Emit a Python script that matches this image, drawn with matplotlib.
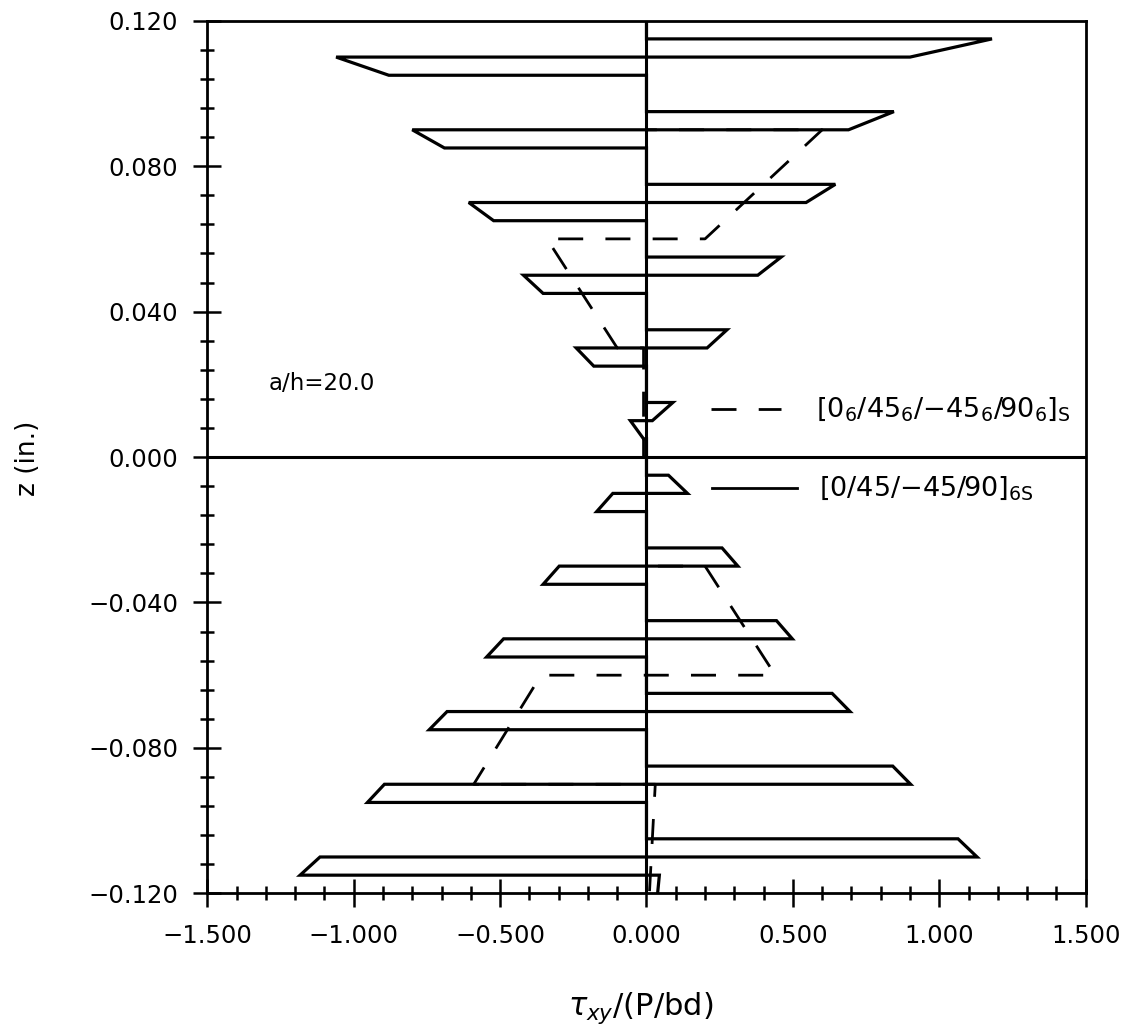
import numpy as np
import matplotlib
matplotlib.use('Agg')
from matplotlib import pyplot as plt
from matplotlib.ticker import MultipleLocator, FuncFormatter

plt.rcParams['font.family'] = 'DejaVu Sans'
plt.rcParams['mathtext.fontset'] = 'dejavusans'
plt.rcParams['lines.scale_dashes'] = False

# [0/45/-45/90]_6S laminate, 48 plies of 0.005 in., listed top to bottom
quasi_angles = [0, 45, -45, 90] * 6 + [90, -45, 45, 0] * 6
quasi_ply_t = 0.005
# shear stress at top / bottom face of the angle plies (upper half, top group first)
upper_p45_top = [1.18, 0.845, 0.645, 0.46, 0.275, 0.09]
upper_p45_bot = [0.90, 0.69, 0.545, 0.38, 0.207, 0.02]
upper_m45_top = [-1.06, -0.80, -0.607, -0.42, -0.24, -0.055]
upper_m45_bot = [-0.88, -0.69, -0.522, -0.353, -0.18, -0.01]
# lower half, group next to mid-plane first
lower_m45_top = [0.075, 0.258, 0.444, 0.634, 0.841, 1.064]
lower_m45_bot = [0.14, 0.312, 0.498, 0.695, 0.902, 1.129]
lower_p45_top = [-0.115, -0.298, -0.488, -0.681, -0.895, -1.115]
lower_p45_bot = [-0.17, -0.353, -0.546, -0.742, -0.953, -1.183]
bottom_ply = (0.044, 0.038)

# [0_6/45_6/-45_6/90_6]_S laminate, 8 blocks of 0.03 in.
block_angles = [0, 45, -45, 90, 90, -45, 45, 0]
block_t = 0.03
block_top = [0.0, 0.60, -0.34, -0.01, 0.0, 0.20, -0.36, 0.03]
block_bot = [0.0, 0.20, -0.10, -0.01, 0.0, 0.44, -0.59, 0.01]


def quasi_profile():
    tops, bots = [], []
    up45 = iter(zip(upper_p45_top, upper_p45_bot))
    upm45 = iter(zip(upper_m45_top, upper_m45_bot))
    lo45 = iter(zip(lower_p45_top, lower_p45_bot))
    lom45 = iter(zip(lower_m45_top, lower_m45_bot))
    for i, ang in enumerate(quasi_angles):
        upper = i < 24
        if ang == 45:
            a, b = next(up45) if upper else next(lo45)
        elif ang == -45:
            a, b = next(upm45) if upper else next(lom45)
        elif i == len(quasi_angles) - 1:
            a, b = bottom_ply
        else:
            a, b = 0.0, 0.0
        tops.append(a)
        bots.append(b)
    return tops, bots


def profile_path(tops, bots, t):
    xs, zs = [], []
    z = 0.12
    for a, b in zip(tops, bots):
        xs += [a, b]
        zs += [z, z - t]
        z -= t
    return xs, zs


fig = plt.figure(figsize=(11.32, 10.36), dpi=100)
ax = fig.add_axes([0.1831, 0.1377, 0.776, 0.8423])

q_top, q_bot = quasi_profile()
qx, qz = profile_path(q_top, q_bot, quasi_ply_t)
bx, bz = profile_path(block_top, block_bot, block_t)

ax.axvline(0, color='black', lw=2.2)
ax.axhline(0, color='black', lw=2.2)
ax.plot(qx, qz, color='black', lw=2.3, solid_joinstyle='miter')
ax.plot(bx, bz, color='black', lw=2.0, dashes=(18, 16))

# legend drawn by hand next to the profile
ax.plot([0.22, 0.46], [0.0132, 0.0132], color='black', lw=2.0, dashes=(18, 16))
ax.text(0.58, 0.0132, r'$[0_6/45_6/{-}45_6/90_6]_{\mathrm{S}}$', fontsize=19.5, va='center')
ax.plot([0.225, 0.515], [-0.0086, -0.0086], color='black', lw=2.0)
ax.text(0.59, -0.0086, r'$[0/45/{-}45/90]_{\mathrm{6S}}$', fontsize=19.5, va='center')

ax.text(-1.29, 0.0201, 'a/h=20.0', fontsize=16.5, va='center')

ax.set_xlim(-1.5, 1.5)
ax.set_ylim(-0.12, 0.12)
ax.xaxis.set_major_locator(MultipleLocator(0.5))
ax.xaxis.set_minor_locator(MultipleLocator(0.1))
ax.yaxis.set_major_locator(MultipleLocator(0.04))
ax.yaxis.set_minor_locator(MultipleLocator(0.008))


def fmt(v, pos):
    s = f'{v:.3f}'
    if s == '-0.000':
        s = '0.000'
    return s.replace('-', '\u2212')


ax.xaxis.set_major_formatter(FuncFormatter(fmt))
ax.yaxis.set_major_formatter(FuncFormatter(fmt))
ax.tick_params(which='both', direction='inout', top=False, right=False,
               width=1.8, labelsize=17.5)
ax.tick_params(which='major', length=20)
ax.tick_params(which='minor', length=10)
ax.tick_params(axis='y', which='major', pad=11)
ax.tick_params(axis='x', which='major', pad=12)
for sp in ax.spines.values():
    sp.set_linewidth(2.0)

fig.text(28 / 1132, 1 - 458 / 1036, 'z (in.)', rotation=90, fontsize=19,
         ha='center', va='center')
fig.text(641 / 1132, 1 - 1008 / 1036, r'$\tau_{xy}$/(P/bd)', fontsize=22,
         ha='center', va='center')

fig.savefig('out.png', dpi=100)
